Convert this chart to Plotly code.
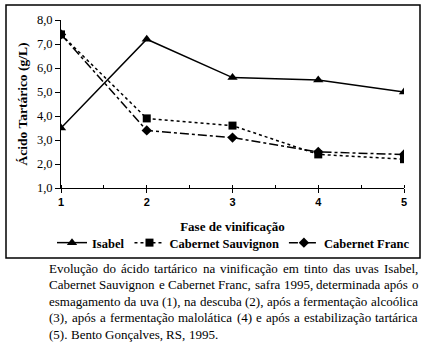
import plotly.graph_objects as go

# Fases de vinificação e teores de ácido tartárico (g/L)
fases = [1, 2, 3, 4, 5]
isabel = [3.5, 7.2, 5.6, 5.5, 5.0]
cab_sauvignon = [7.4, 3.9, 3.6, 2.4, 2.2]
cab_franc = [7.4, 3.4, 3.1, 2.5, 2.4]

y_ticks = [1, 2, 3, 4, 5, 6, 7, 8]

legenda = [
    "Evolução do ácido tartárico na vinificação em tinto das uvas Isabel,",
    "Cabernet Sauvignon e Cabernet Franc, safra 1995, determinada após o",
    "esmagamento da uva (1), na descuba (2), após a fermentação alcoólica",
    "(3), após a fermentação malolática (4) e após a estabilização tartárica",
    "(5). Bento Gonçalves, RS, 1995.",
]

SERIF = "Liberation Serif"
SANS = "Liberation Sans"

W, H = 427, 344
L, R, T, B = 61, 23, 20, 156
pw, ph = W - L - R, H - T - B


def px(x):
    return (x - L) / pw


def py(y):
    return (H - B - y) / ph


# larguras de avanço (em milésimos de em) da fonte serifada, para justificar o texto
LARG = dict(zip("abcdefghijklmnopqrstuvwxyz",
                [444, 500, 444, 500, 444, 333, 500, 500, 278, 278, 500, 278, 778,
                 500, 500, 500, 500, 333, 389, 278, 500, 500, 722, 500, 500, 444]))
LARG.update({"A": 722, "B": 667, "C": 667, "D": 722, "E": 611, "F": 556, "G": 722,
             "I": 333, "R": 667, "S": 556, "T": 611, "(": 333, ")": 333, ",": 250,
             ".": 250, " ": 250})
LARG.update({d: 500 for d in "0123456789"})
for acento, base in zip("áãâàéêíóõôúç", "aaaaeeiooouc"):
    LARG[acento] = LARG[base]


def largura(texto, tam):
    return sum(LARG.get(c, 500) for c in texto) * tam / 1000.0


fig = go.Figure()
fig.add_trace(go.Scatter(
    x=fases, y=isabel, name="Isabel", mode="lines+markers",
    line=dict(color="black", width=1.5, dash="solid"),
    marker=dict(symbol="triangle-up", size=9, color="black"),
))
fig.add_trace(go.Scatter(
    x=fases, y=cab_sauvignon, name="Cabernet Sauvignon", mode="lines+markers",
    line=dict(color="black", width=1.5, dash="dot"),
    marker=dict(symbol="square", size=8, color="black"),
))
fig.add_trace(go.Scatter(
    x=fases, y=cab_franc, name="Cabernet Franc", mode="lines+markers",
    line=dict(color="black", width=1.5, dash="dashdot"),
    marker=dict(symbol="diamond", size=8, color="black"),
))

fig.update_layout(
    width=W, height=H,
    margin=dict(l=L, r=R, t=T, b=B),
    paper_bgcolor="white", plot_bgcolor="white",
    separators=",.",
    showlegend=True,
    legend=dict(
        orientation="h", x=px(52), xanchor="left", y=py(243), yanchor="middle",
        font=dict(family=SERIF, size=12.5, color="black", weight="bold"),
        itemwidth=30, tracegroupgap=0, bgcolor="rgba(0,0,0,0)",
    ),
    xaxis=dict(
        range=[1, 5], tickvals=fases, ticktext=[str(f) for f in fases],
        showgrid=False, zeroline=False, showline=True, linecolor="black", linewidth=1,
        ticks="outside", ticklen=4, tickcolor="black", tickwidth=1,
        minor=dict(dtick=0.5, ticks="inside", ticklen=3, tickcolor="black", showgrid=False),
        tickfont=dict(family=SANS, size=11, color="black", weight="bold"),
        title=dict(text="Fase de vinificação", standoff=14,
                   font=dict(family=SERIF, size=13, color="black", weight="bold")),
    ),
    yaxis=dict(
        range=[1, 8], tickvals=y_ticks, tickformat=".1f",
        showgrid=False, zeroline=False, showline=True, linecolor="black", linewidth=1,
        ticks="outside", ticklen=5, tickcolor="black", tickwidth=1,
        tickfont=dict(family=SERIF, size=12.5, color="black"),
        title=dict(text="Ácido Tartárico (g/L)", standoff=6,
                   font=dict(family=SERIF, size=13.5, color="black", weight="bold")),
    ),
)

# moldura externa do gráfico
fig.add_shape(type="rect", xref="paper", yref="paper",
              x0=px(6), x1=px(420), y0=py(258), y1=py(5),
              line=dict(color="black", width=1.5), fillcolor="rgba(0,0,0,0)", layer="below")

# texto explicativo justificado abaixo do gráfico
TAM = 13
X0, X1 = 49, 418
for i, linha in enumerate(legenda):
    palavras = linha.split(" ")
    larguras = [largura(p, TAM) for p in palavras]
    ultima = i == len(legenda) - 1
    if ultima or len(palavras) < 2:
        espaco = largura(" ", TAM)
    else:
        espaco = (X1 - X0 - sum(larguras)) / (len(palavras) - 1)
    x = X0
    for p, lp in zip(palavras, larguras):
        fig.add_annotation(
            xref="paper", yref="paper", x=px(x), y=py(268 + 16.6 * i),
            xanchor="left", yanchor="middle", showarrow=False,
            text=p, borderpad=0, borderwidth=0,
            font=dict(family=SERIF, size=TAM, color="black"),
        )
        x += lp + espaco

fig.write_html("out.html")
